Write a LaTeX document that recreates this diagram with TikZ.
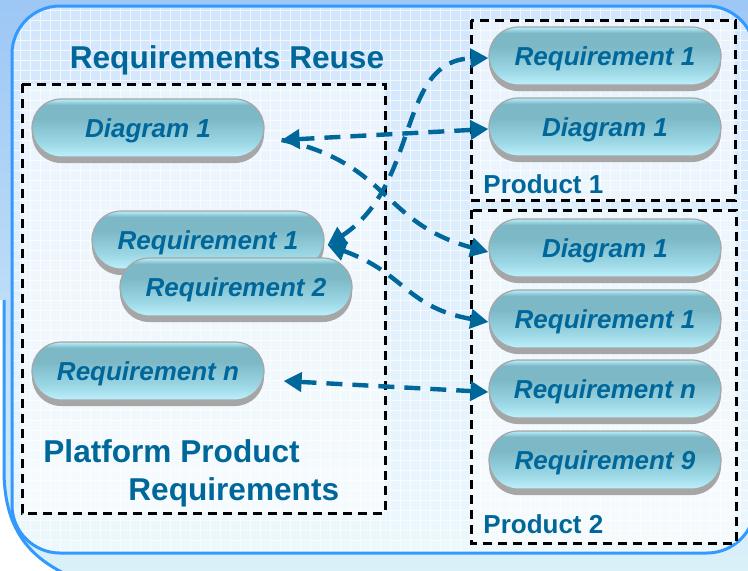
\documentclass[tikz,border=0pt]{standalone}
\usepackage{fontspec}
\setmainfont{Liberation Sans}
\usetikzlibrary{arrows.meta,shadows}

\definecolor{reuseblue}{HTML}{00679A}
\definecolor{panelline}{HTML}{3399FF}
\definecolor{outertop}{HTML}{9CC6F5}
\definecolor{outerlow}{HTML}{DCF2F8}
\definecolor{paneltop}{HTML}{D2E6FC}
\definecolor{panellow}{HTML}{EDF8FC}
\definecolor{btnlow}{HTML}{BDF1FC}
\definecolor{btnmid}{HTML}{9AD6E4}
\definecolor{btnhigh}{HTML}{7DB8C7}
\definecolor{btnshine}{HTML}{AEE6F2}
\definecolor{btnedge}{HTML}{A6A6A6}
\pgfdeclareverticalshading{btnshade}{100bp}{color(0bp)=(btnlow); color(25bp)=(btnlow); color(38bp)=(btnmid); color(58bp)=(btnhigh); color(70bp)=(btnhigh); color(74bp)=(btnshine); color(100bp)=(btnshine)}

\begin{document}
\begin{tikzpicture}[
    x=0.5pt, y=-0.5pt,
    >={Triangle[length=9pt,width=9.5pt]},
    reqbtn/.style={rectangle, rounded corners=14.5pt, minimum width=116pt, minimum height=29pt,
        draw=btnedge, line width=0.6pt, shading=btnshade,
        drop shadow={shadow xshift=0pt, shadow yshift=-3pt, fill=btnedge, opacity=1},
        text=reuseblue, font=\fontsize{13}{15}\selectfont\bfseries\itshape,
        text height=9.4pt, text depth=0pt, inner sep=0pt},
    groupbox/.style={draw=black, line width=1.5pt, dash pattern=on 4.5pt off 3pt, fill=white, fill opacity=0.5},
    boxtitle/.style={text=reuseblue, font=\fontsize{13}{15}\selectfont\bfseries, inner sep=0pt, anchor=base west},
    bigtitle/.style={boxtitle, font=\fontsize{15.8}{18}\selectfont\bfseries},
    reuselink/.style={draw=reuseblue, line width=2.2pt, dash pattern=on 8pt off 5pt}
  ]
  \useasboundingbox (0,0) rectangle (748,570);

  % Background
  \fill[white] (0,0) rectangle (748,570);
  \path[top color=outertop, bottom color=outerlow] (-10,-10) -- (-10,300) -- (4,300) -- (4,470)
    .. controls (4,545) and (45,572) .. (110,590) -- (800,590) -- (800,-10) -- cycle;
  \draw[panelline, line width=1.5pt] (4,300) -- (4,470) .. controls (4,545) and (45,572) .. (110,590);

  % Inner panel with grid
  \begin{scope}
    \clip[rounded corners=24pt] (12,6) rectangle (755,553);
    \fill[top color=paneltop, bottom color=panellow] (12,6) rectangle (755,553);
    \draw[white, line width=0.4pt, opacity=0.7, step=5pt] (12,6) grid (755,553);
  \end{scope}
  \draw[panelline, line width=1.5pt, rounded corners=24pt] (12,6) rectangle (755,553);

  % Dashed groups
  \draw[groupbox] (22,84) rectangle (385,513);
  \draw[groupbox] (471,20) rectangle (735,200);
  \draw[groupbox] (471,210) rectangle (736,543);

  % Platform requirements
  \node[reqbtn] (d1-plat) at (148,128) {Diagram 1};
  \node[reqbtn] (r1-plat) at (208,240) {Requirement 1};
  \node[reqbtn] (r2-plat) at (236,287) {Requirement 2};
  \node[reqbtn] (rn-plat) at (148,371) {Requirement n};

  % Product 1
  \foreach \name/\txt/\y in {r1-prod1/Requirement 1/56, d1-prod1/Diagram 1/127}
    \node[reqbtn] (\name) at (605,\y) {\txt};

  % Product 2
  \foreach \name/\txt/\y in {d1-prod2/Diagram 1/248, r1-prod2/Requirement 1/319,
                             rn-prod2/Requirement n/389, r9-prod2/Requirement 9/460}
    \node[reqbtn] (\name) at (605,\y) {\txt};

  % Titles
  \node[bigtitle, anchor=base] (reuse-title) at (227,68) {Requirements Reuse};
  \node[boxtitle] (prod1-title) at (483,193) {Product 1};
  \node[boxtitle] (prod2-title) at (483,533) {Product 2};
  \node[bigtitle] (plat-title) at (43,462) {Platform Product};
  \node[bigtitle] (plat-title2) at (128,500) {Requirements};

  % Reuse links
  \coordinate (d1-tip) at ([xshift=8.5pt,yshift=-6pt]d1-plat.east);
  \coordinate (r1-tip) at ([xshift=1.5pt,yshift=-2.5pt]r1-plat.east);
  \coordinate (rn-tip) at ([xshift=9.5pt,yshift=-5pt]rn-plat.east);
  \draw[reuselink,<->] (d1-tip) -- ([yshift=-1pt]d1-prod1.west);
  \draw[reuselink,->] (d1-tip) to[out=-12,in=165,looseness=1.2] ([yshift=-2pt]d1-prod2.west);
  \draw[reuselink,<->] (r1-tip) .. controls +(93,-60) and +(-92,2) .. ([yshift=-1pt]r1-prod1.west);
  \draw[reuselink,<->] (r1-tip) to[out=-20,in=170,looseness=1.2] ([yshift=-1.5pt]r1-prod2.west);
  \draw[reuselink,<->] (rn-tip) -- ([yshift=-1.5pt]rn-prod2.west);
\end{tikzpicture}
\end{document}
